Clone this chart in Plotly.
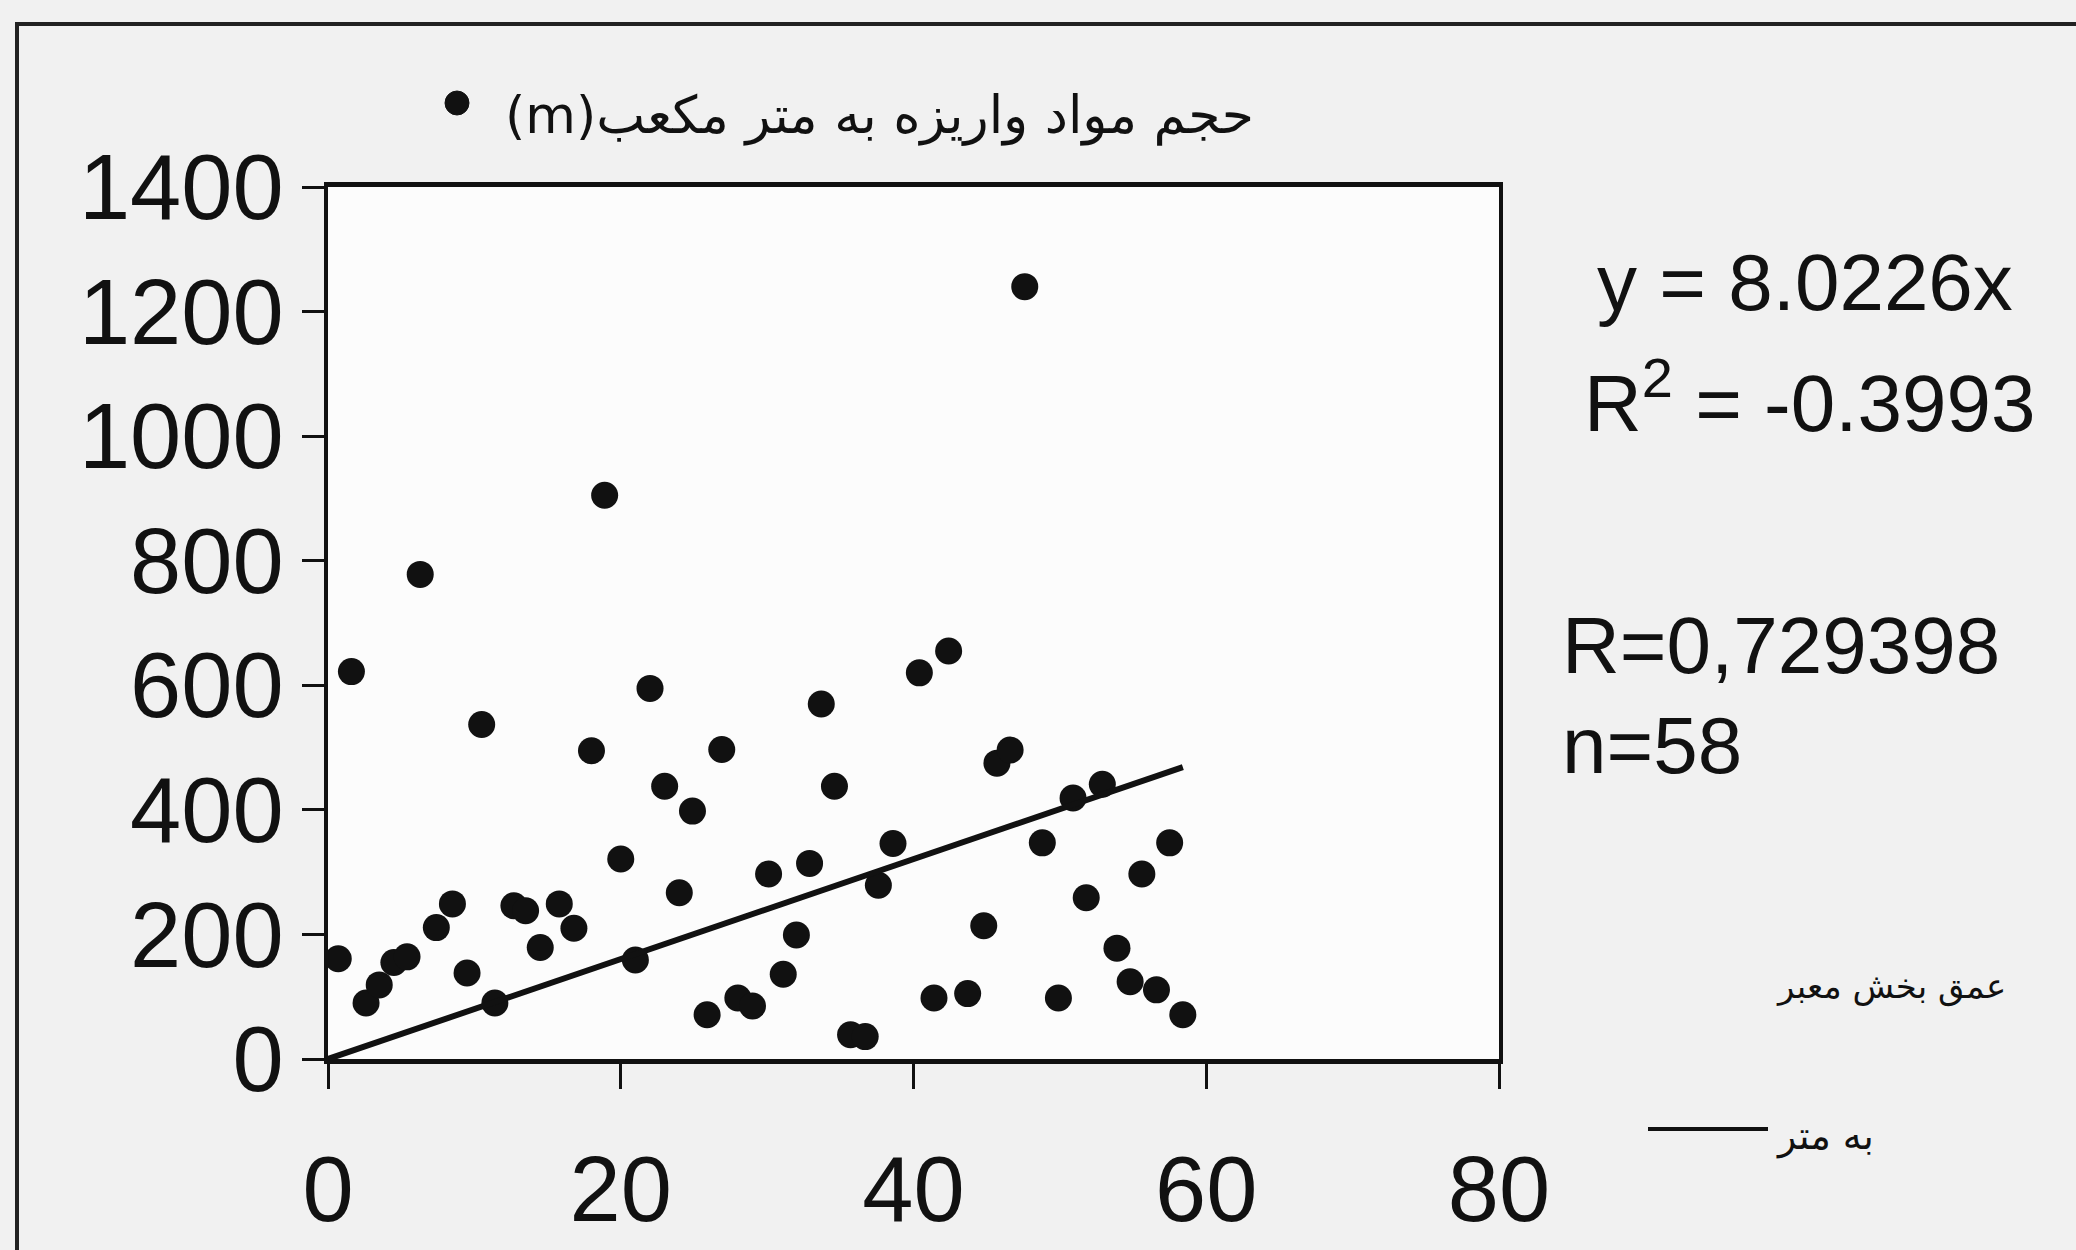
import plotly.graph_objects as go

# ---- data ----
depth_m = [0.7, 1.6, 2.6, 3.5, 4.5, 5.4, 6.3, 7.4, 8.5, 9.5, 10.5, 11.4, 12.7, 13.5, 14.5,
           15.8, 16.8, 18.0, 18.9, 20.0, 21.0, 22.0, 23.0, 24.0, 24.9, 25.9, 26.9, 28.0,
           29.0, 30.1, 31.1, 32.0, 32.9, 33.7, 34.6, 35.7, 36.7, 37.6, 38.6, 40.4, 41.4,
           42.4, 43.7, 44.8, 45.7, 46.6, 47.6, 48.8, 49.9, 50.9, 51.8, 52.9, 53.9, 54.8,
           55.6, 56.6, 57.5, 58.4]
volume_m3 = [161, 622, 90, 119, 155, 164, 778, 211, 249, 138, 537, 90, 246, 238, 179,
             249, 210, 495, 905, 321, 159, 595, 438, 267, 398, 71, 497, 98,
             85, 297, 136, 199, 314, 570, 438, 39, 36, 279, 346, 620, 98,
             655, 105, 214, 475, 496, 1240, 347, 98, 419, 259, 441, 178, 124,
             297, 111, 347, 71]
trend_slope = 8.0226
trend_x = [0, max(depth_m)]
trend_y = [trend_slope * v for v in trend_x]

x_ticks = [0, 20, 40, 60, 80]
y_ticks = [0, 200, 400, 600, 800, 1000, 1200, 1400]

points_label = "(m)حجم مواد واریزه به متر مکعب"
line_label_1 = "عمق بخش معبر"
line_label_2 = "به متر"
eq_text = "y = 8.0226x"
r2_text = "R<sup>2</sup> = -0.3993"
r_text = "R=0,729398"
n_text = "n=58"

# ---- layout geometry (pixels) ----
W, H = 2076, 1250
L, R, T, B = 328, 1499, 187, 1059
pw, ph = R - L, B - T
def px(xp):
    return (xp - L) / pw
def py(yp):
    return (B - yp) / ph

fig = go.Figure()
fig.add_trace(go.Scatter(x=depth_m, y=volume_m3, mode="markers",
                         marker=dict(color="#111111", size=27),
                         name=points_label, showlegend=False))
fig.add_trace(go.Scatter(x=trend_x, y=trend_y, mode="lines",
                         line=dict(color="#111111", width=6),
                         name=line_label_1 + " " + line_label_2, showlegend=False))

tickfont = dict(family="Liberation Sans, Arial, sans-serif", size=92, color="#111111")
fig.update_xaxes(range=[0, 80], tickvals=x_ticks, ticks="outside", ticklen=25,
                 tickwidth=3, tickcolor="#111111", showline=True, linewidth=5,
                 linecolor="#111111", mirror=True, showgrid=False, zeroline=False,
                 tickfont=tickfont, ticklabelstandoff=22, automargin=False)
fig.update_yaxes(range=[0, 1400], tickvals=y_ticks, ticks="outside", ticklen=22,
                 tickwidth=3, tickcolor="#111111", showline=True, linewidth=4,
                 linecolor="#111111", mirror=True, showgrid=False, zeroline=False,
                 tickfont=tickfont, ticklabelstandoff=0, automargin=False)

big = dict(family="Liberation Sans, Arial, sans-serif", size=80, color="#111111")
fa_top = dict(family="DejaVu Sans, sans-serif", size=52, color="#111111")
fa = dict(family="DejaVu Sans, sans-serif", size=34, color="#111111")
fa2 = dict(family="DejaVu Sans, sans-serif", size=38, color="#111111")
annotations = [
    dict(text=eq_text, x=px(1595), y=py(282), font=big),
    dict(text=r2_text, x=px(1582), y=py(397), font=big),
    dict(text=r_text, x=px(1560), y=py(645), font=big),
    dict(text=n_text, x=px(1560), y=py(745), font=big),
    dict(text=points_label, x=px(503), y=py(115), font=fa_top),
    dict(text=line_label_1, x=px(1774), y=py(986), font=fa),
    dict(text=line_label_2, x=px(1774), y=py(1136), font=fa2),
]
for a in annotations:
    a.update(xref="paper", yref="paper", xanchor="left", yanchor="middle",
             showarrow=False)

shapes = [
    # outer frame of the figure
    dict(type="rect", xref="paper", yref="paper", x0=px(17), x1=px(2300),
         y0=py(1500), y1=py(24), line=dict(color="#222222", width=4),
         fillcolor="rgba(0,0,0,0)", layer="below"),
    # legend marker for points
    dict(type="circle", xref="paper", yref="paper", x0=px(445), x1=px(469),
         y0=py(115), y1=py(91), fillcolor="#111111", line=dict(color="#111111", width=1)),
    # legend line for trend
    dict(type="line", xref="paper", yref="paper", x0=px(1648), x1=px(1768),
         y0=py(1129), y1=py(1129), line=dict(color="#111111", width=4)),
]

fig.update_layout(width=W, height=H, margin=dict(l=L, r=W - R, t=T, b=H - B),
                  paper_bgcolor="#f1f1f1", plot_bgcolor="#fcfcfc",
                  annotations=annotations, shapes=shapes, showlegend=False)

fig.write_html("out.html")
